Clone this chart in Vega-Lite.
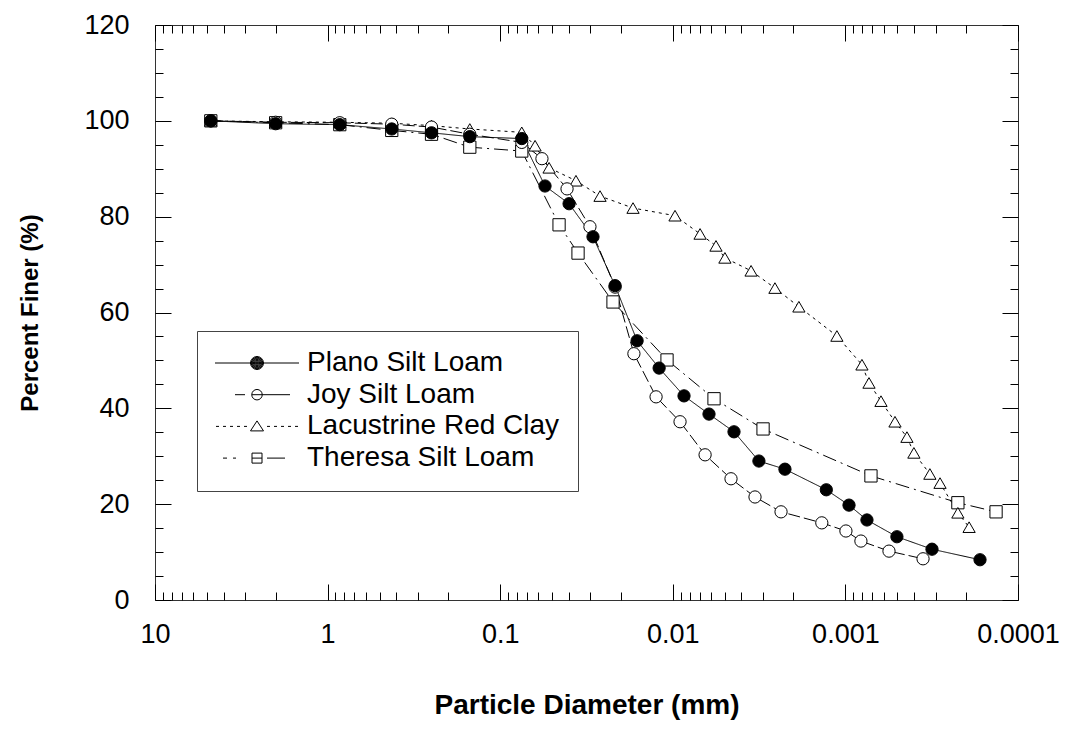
{
  "$schema": "https://vega.github.io/schema/vega-lite/v6.json",
  "width": 863,
  "height": 575,
  "autosize": {"type": "none"},
  "padding": {"left": 155, "top": 25, "right": 49, "bottom": 131},
  "background": "white",
  "config": {
    "view": {"stroke": "#333", "strokeWidth": 1},
    "axis": {
      "domain": false, "grid": false, "tickColor": "black", "tickWidth": 1,
      "labelColor": "black", "labelFont": "Liberation Sans", "labelFontSize": 27,
      "titleFont": "Liberation Sans", "titleFontSize": 24, "titleFontWeight": "bold", "titleColor": "black",
      "labelFlush": false, "labelOverlap": false
    }
  },
  "data": {"values": [
    {"s": "Theresa Silt Loam", "d": 4.75, "p": 100},
    {"s": "Theresa Silt Loam", "d": 2, "p": 99.6},
    {"s": "Theresa Silt Loam", "d": 0.85, "p": 99.2},
    {"s": "Theresa Silt Loam", "d": 0.425, "p": 98.0},
    {"s": "Theresa Silt Loam", "d": 0.25, "p": 97.2},
    {"s": "Theresa Silt Loam", "d": 0.15, "p": 94.5},
    {"s": "Theresa Silt Loam", "d": 0.075, "p": 93.7},
    {"s": "Theresa Silt Loam", "d": 0.0456, "p": 78.3},
    {"s": "Theresa Silt Loam", "d": 0.0354, "p": 72.4},
    {"s": "Theresa Silt Loam", "d": 0.0222, "p": 62.2},
    {"s": "Theresa Silt Loam", "d": 0.0108, "p": 50.1},
    {"s": "Theresa Silt Loam", "d": 0.00577, "p": 42.0},
    {"s": "Theresa Silt Loam", "d": 0.0030, "p": 35.7},
    {"s": "Theresa Silt Loam", "d": 0.000711, "p": 25.9},
    {"s": "Theresa Silt Loam", "d": 0.000223, "p": 20.3},
    {"s": "Theresa Silt Loam", "d": 0.000134, "p": 18.4},
    {"s": "Lacustrine Red Clay", "d": 4.75, "p": 100},
    {"s": "Lacustrine Red Clay", "d": 2, "p": 99.8},
    {"s": "Lacustrine Red Clay", "d": 0.85, "p": 99.7},
    {"s": "Lacustrine Red Clay", "d": 0.425, "p": 99.5},
    {"s": "Lacustrine Red Clay", "d": 0.25, "p": 99.0},
    {"s": "Lacustrine Red Clay", "d": 0.15, "p": 98.3},
    {"s": "Lacustrine Red Clay", "d": 0.075, "p": 97.6},
    {"s": "Lacustrine Red Clay", "d": 0.0628, "p": 94.8},
    {"s": "Lacustrine Red Clay", "d": 0.0521, "p": 90.2},
    {"s": "Lacustrine Red Clay", "d": 0.0364, "p": 87.5},
    {"s": "Lacustrine Red Clay", "d": 0.0264, "p": 84.3},
    {"s": "Lacustrine Red Clay", "d": 0.0170, "p": 81.8},
    {"s": "Lacustrine Red Clay", "d": 0.00971, "p": 80.2},
    {"s": "Lacustrine Red Clay", "d": 0.00695, "p": 76.4},
    {"s": "Lacustrine Red Clay", "d": 0.00562, "p": 73.9},
    {"s": "Lacustrine Red Clay", "d": 0.00499, "p": 71.4},
    {"s": "Lacustrine Red Clay", "d": 0.00352, "p": 68.7},
    {"s": "Lacustrine Red Clay", "d": 0.00256, "p": 65.1},
    {"s": "Lacustrine Red Clay", "d": 0.00186, "p": 61.2},
    {"s": "Lacustrine Red Clay", "d": 0.00112, "p": 55.1},
    {"s": "Lacustrine Red Clay", "d": 0.000802, "p": 49.1},
    {"s": "Lacustrine Red Clay", "d": 0.000730, "p": 45.3},
    {"s": "Lacustrine Red Clay", "d": 0.000622, "p": 41.5},
    {"s": "Lacustrine Red Clay", "d": 0.000516, "p": 37.2},
    {"s": "Lacustrine Red Clay", "d": 0.000440, "p": 34.0},
    {"s": "Lacustrine Red Clay", "d": 0.000401, "p": 30.7},
    {"s": "Lacustrine Red Clay", "d": 0.000324, "p": 26.3},
    {"s": "Lacustrine Red Clay", "d": 0.000283, "p": 24.4},
    {"s": "Lacustrine Red Clay", "d": 0.000223, "p": 18.2},
    {"s": "Lacustrine Red Clay", "d": 0.000192, "p": 15.2},
    {"s": "Joy Silt Loam", "d": 4.75, "p": 100},
    {"s": "Joy Silt Loam", "d": 2, "p": 99.7},
    {"s": "Joy Silt Loam", "d": 0.85, "p": 99.6},
    {"s": "Joy Silt Loam", "d": 0.425, "p": 99.3},
    {"s": "Joy Silt Loam", "d": 0.25, "p": 98.7},
    {"s": "Joy Silt Loam", "d": 0.15, "p": 97.2},
    {"s": "Joy Silt Loam", "d": 0.075, "p": 95.5},
    {"s": "Joy Silt Loam", "d": 0.0573, "p": 92.1},
    {"s": "Joy Silt Loam", "d": 0.0410, "p": 85.8},
    {"s": "Joy Silt Loam", "d": 0.0302, "p": 77.9},
    {"s": "Joy Silt Loam", "d": 0.0216, "p": 65.3},
    {"s": "Joy Silt Loam", "d": 0.0168, "p": 51.4},
    {"s": "Joy Silt Loam", "d": 0.0125, "p": 42.4},
    {"s": "Joy Silt Loam", "d": 0.00908, "p": 37.2},
    {"s": "Joy Silt Loam", "d": 0.00650, "p": 30.3},
    {"s": "Joy Silt Loam", "d": 0.00460, "p": 25.3},
    {"s": "Joy Silt Loam", "d": 0.00334, "p": 21.5},
    {"s": "Joy Silt Loam", "d": 0.00236, "p": 18.4},
    {"s": "Joy Silt Loam", "d": 0.00137, "p": 16.1},
    {"s": "Joy Silt Loam", "d": 0.000993, "p": 14.4},
    {"s": "Joy Silt Loam", "d": 0.000813, "p": 12.3},
    {"s": "Joy Silt Loam", "d": 0.000559, "p": 10.2},
    {"s": "Joy Silt Loam", "d": 0.000355, "p": 8.6},
    {"s": "Plano Silt Loam", "d": 4.75, "p": 100},
    {"s": "Plano Silt Loam", "d": 2, "p": 99.4},
    {"s": "Plano Silt Loam", "d": 0.85, "p": 99.2},
    {"s": "Plano Silt Loam", "d": 0.425, "p": 98.3},
    {"s": "Plano Silt Loam", "d": 0.25, "p": 97.5},
    {"s": "Plano Silt Loam", "d": 0.15, "p": 96.7},
    {"s": "Plano Silt Loam", "d": 0.075, "p": 96.3},
    {"s": "Plano Silt Loam", "d": 0.0550, "p": 86.4},
    {"s": "Plano Silt Loam", "d": 0.0399, "p": 82.7},
    {"s": "Plano Silt Loam", "d": 0.0290, "p": 75.8},
    {"s": "Plano Silt Loam", "d": 0.0216, "p": 65.6},
    {"s": "Plano Silt Loam", "d": 0.0161, "p": 54.1},
    {"s": "Plano Silt Loam", "d": 0.0120, "p": 48.4},
    {"s": "Plano Silt Loam", "d": 0.00861, "p": 42.6},
    {"s": "Plano Silt Loam", "d": 0.00617, "p": 38.8},
    {"s": "Plano Silt Loam", "d": 0.00442, "p": 35.1},
    {"s": "Plano Silt Loam", "d": 0.00317, "p": 29.0},
    {"s": "Plano Silt Loam", "d": 0.00224, "p": 27.3},
    {"s": "Plano Silt Loam", "d": 0.00129, "p": 23.0},
    {"s": "Plano Silt Loam", "d": 0.000953, "p": 19.8},
    {"s": "Plano Silt Loam", "d": 0.000750, "p": 16.7},
    {"s": "Plano Silt Loam", "d": 0.000503, "p": 13.2},
    {"s": "Plano Silt Loam", "d": 0.000315, "p": 10.6},
    {"s": "Plano Silt Loam", "d": 0.000166, "p": 8.4}
  ]},
  "layer": [
    {
      "mark": {"type": "line", "strokeWidth": 1, "color": "black"},
      "encoding": {
        "x": {"field": "d", "type": "quantitative",
          "scale": {"type": "log", "domain": [0.0001, 10], "reverse": true, "nice": false},
          "axis": {"orient": "bottom", "values": [10, 1, 0.1, 0.01, 0.001, 0.0001], "format": "~g",
            "tickSize": -16, "labelPadding": 37, "title": "Particle Diameter (mm)", "titleFontSize": 28, "titleY": 105, "titleBaseline": "middle"}},
        "y": {"field": "p", "type": "quantitative", "scale": {"domain": [0, 120], "nice": false},
          "axis": {"orient": "left", "values": [0, 20, 40, 60, 80, 100, 120], "tickSize": -16, "labelPadding": 42,
            "title": "Percent Finer (%)", "titleX": -125, "titleY": 287.5, "titleAngle": 270, "titleBaseline": "middle"}},
        "strokeDash": {"field": "s", "type": "nominal",
          "scale": {"domain": ["Plano Silt Loam", "Joy Silt Loam", "Lacustrine Red Clay", "Theresa Silt Loam"],
            "range": [[1, 0], [12, 4], [3, 4], [14, 5, 2, 5]]}, "legend": null}
      }
    },
    {
      "mark": {"type": "point", "filled": true, "stroke": "black", "strokeWidth": 1, "opacity": 1},
      "encoding": {
        "x": {"field": "d", "type": "quantitative",
          "axis": {"orient": "bottom", "values": [0.0002,0.0003,0.0004,0.0005,0.0006,0.0007,0.0008,0.0009,0.002,0.003,0.004,0.005,0.006,0.007,0.008,0.009,0.02,0.03,0.04,0.05,0.06,0.07,0.08,0.09,0.2,0.3,0.4,0.5,0.6,0.7,0.8,0.9,2,3,4,5,6,7,8,9],
            "tickSize": -8, "labels": false, "title": null}},
        "y": {"field": "p", "type": "quantitative",
          "axis": {"orient": "left", "values": [5,10,15,25,30,35,45,50,55,65,70,75,85,90,95,105,110,115], "tickSize": -8, "labels": false, "title": null}},
        "shape": {"field": "s", "type": "nominal",
          "scale": {"domain": ["Plano Silt Loam", "Joy Silt Loam", "Lacustrine Red Clay", "Theresa Silt Loam"],
            "range": ["circle", "circle", "triangle-up", "square"]}, "legend": null},
        "fill": {"field": "s", "type": "nominal",
          "scale": {"domain": ["Plano Silt Loam", "Joy Silt Loam", "Lacustrine Red Clay", "Theresa Silt Loam"],
            "range": ["black", "white", "white", "white"]}, "legend": null},
        "size": {"field": "s", "type": "nominal",
          "scale": {"domain": ["Plano Silt Loam", "Joy Silt Loam", "Lacustrine Red Clay", "Theresa Silt Loam"],
            "range": [150, 150, 185, 175]}, "legend": null}
      }
    },
    {
      "transform": [{"filter": "datum.p < 0"}],
      "mark": {"type": "point", "stroke": "black", "strokeWidth": 1},
      "encoding": {
        "x": {"field": "d", "type": "quantitative", "axis": null},
        "y": {"field": "p", "type": "quantitative", "axis": null},
        "shape": {"field": "s", "type": "nominal",
          "scale": {"domain": ["Plano Silt Loam", "Joy Silt Loam", "Lacustrine Red Clay", "Theresa Silt Loam"],
            "range": [
              "M-8.4,0H8.4M1.3,0A1.3,1.3,0,1,1,-1.3,0A1.3,1.3,0,1,1,1.3,0M1.15,0A1.15,1.15,0,1,1,-1.15,0A1.15,1.15,0,1,1,1.15,0M1,0A1,1,0,1,1,-1,0A1,1,0,1,1,1,0M0.85,0A0.85,0.85,0,1,1,-0.85,0A0.85,0.85,0,1,1,0.85,0M0.7,0A0.7,0.7,0,1,1,-0.7,0A0.7,0.7,0,1,1,0.7,0M0.55,0A0.55,0.55,0,1,1,-0.55,0A0.55,0.55,0,1,1,0.55,0M0.4,0A0.4,0.4,0,1,1,-0.4,0A0.4,0.4,0,1,1,0.4,0M0.25,0A0.25,0.25,0,1,1,-0.25,0A0.25,0.25,0,1,1,0.25,0M0.1,0A0.1,0.1,0,1,1,-0.1,0A0.1,0.1,0,1,1,0.1,0",
              "M-4.4,0H-2.4M-1.05,0H6.6M1.05,0A1.05,1.05,0,1,1,-1.05,0A1.05,1.05,0,1,1,1.05,0",
              "M-8.2,0H-7.6M-6.8,0H-6.2M-5.4,0H-4.8M-4,0H-3.4M-2.6,0H-2M2,0H2.6M3.4,0H4M4.8,0H5.4M6.2,0H6.8M7.6,0H8.2M0,-1.1L1.3,0.9L-1.3,0.9Z",
              "M-6.8,0H-6M-4.8,0H-4.2M-1,-1H1V1H-1ZM-1,0H1M2,0H5.6"
            ]},
          "legend": {"title": null, "orient": "none", "legendX": 42, "legendY": 306,
            "strokeColor": "#444", "fillColor": "white", "padding": 18, "rowPadding": 3.7,
            "symbolSize": 100, "symbolOffset": 28, "labelOffset": 36, "labelLimit": 400,
            "symbolFillColor": "transparent", "symbolStrokeColor": "black", "symbolStrokeWidth": 1, "symbolOpacity": 1,
            "labelFont": "Liberation Sans", "labelFontSize": 28, "labelColor": "black"}}
      }
    },
    {
      "mark": {"type": "point", "opacity": 0},
      "encoding": {
        "x": {"field": "d", "type": "quantitative",
          "axis": {"orient": "top", "values": [10, 1, 0.1, 0.01, 0.001, 0.0001], "tickSize": -16, "labels": false, "title": null}},
        "y": {"field": "p", "type": "quantitative",
          "axis": {"orient": "right", "values": [0, 20, 40, 60, 80, 100, 120], "tickSize": -16, "labels": false, "title": null}}
      }
    },
    {
      "mark": {"type": "point", "opacity": 0},
      "encoding": {
        "x": {"field": "d", "type": "quantitative",
          "axis": {"orient": "top", "values": [0.0002,0.0003,0.0004,0.0005,0.0006,0.0007,0.0008,0.0009,0.002,0.003,0.004,0.005,0.006,0.007,0.008,0.009,0.02,0.03,0.04,0.05,0.06,0.07,0.08,0.09,0.2,0.3,0.4,0.5,0.6,0.7,0.8,0.9,2,3,4,5,6,7,8,9],
            "tickSize": -8, "labels": false, "title": null}},
        "y": {"field": "p", "type": "quantitative",
          "axis": {"orient": "right", "values": [5,10,15,25,30,35,45,50,55,65,70,75,85,90,95,105,110,115], "tickSize": -8, "labels": false, "title": null}}
      }
    }
  ],
  "resolve": {"axis": {"x": "independent", "y": "independent"}, "scale": {"shape": "independent"}}
}
